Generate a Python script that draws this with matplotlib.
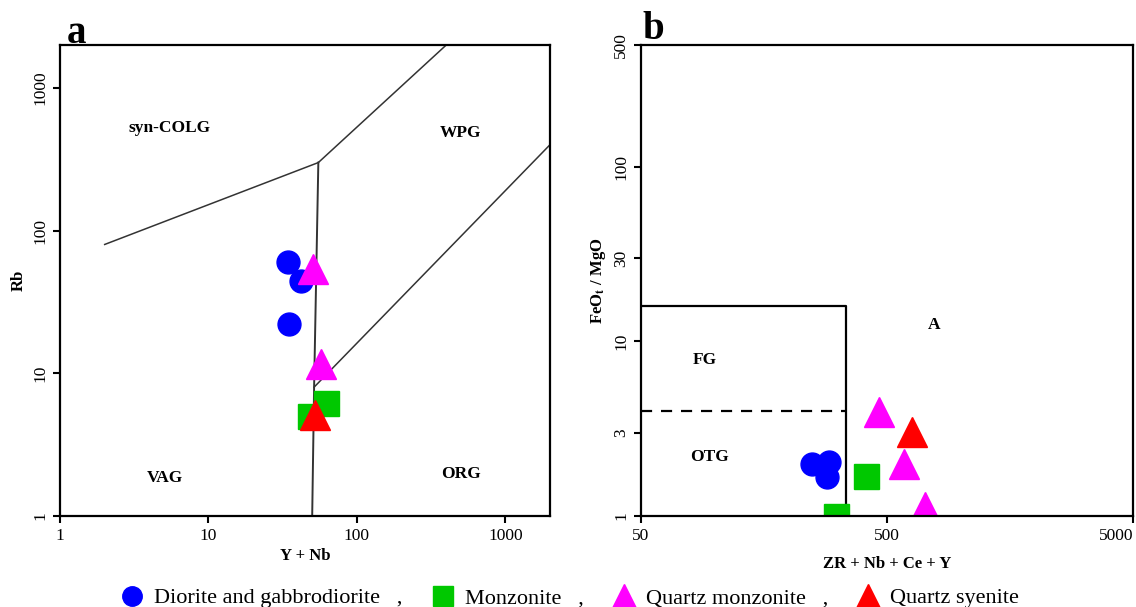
import matplotlib.pyplot as plt
import numpy as np
from matplotlib.lines import Line2D

plt.rcParams['font.family'] = ['Liberation Serif', 'DejaVu Serif']
plt.rcParams['mathtext.fontset'] = 'stix'

# panel a : Rb vs Y+Nb
dio_a_x = [34.1, 41.8, 34.7]
dio_a_y = [60.5, 44.5, 22.1]
mon_a_x = [48, 61.5]
mon_a_y = [5.06, 6.15]
qm_a_x = [50.3, 56.9]
qm_a_y = [54, 11.6]
qs_a_x = [51.9]
qs_a_y = [5.14]

# panel b : FeOt/MgO vs Zr+Nb+Ce+Y
dio_b_x = [248, 290, 285]
dio_b_y = [1.99, 2.04, 1.67]
mon_b_x = [411, 310]
mon_b_y = [1.69, 1.0]
qm_b_x = [464, 586, 713]
qm_b_y = [3.95, 1.99, 1.12]
qs_b_x = [630]
qs_b_y = [3.03]

# field boundaries (Pearce 1984 / Whalen 1987)
colg_vag_x, colg_vag_y = [2, 55], [80, 300]
wpg_colg_x, wpg_colg_y = [55, 400], [300, 2000]
vag_org_x, vag_org_y = [55, 51.5, 50], [300, 8, 1]
wpg_org_x, wpg_org_y = [51.5, 2000], [8, 400]

fg_box_x, fg_box_y = [50, 340, 340], [16, 16, 1]
otg_x, otg_y = [50, 340], [4, 4]

a_xticks = [1, 10, 100, 1000]
a_yticks = [1, 10, 100, 1000]
b_xticks = [50, 500, 5000]
b_yticks = [1, 3, 10, 30, 100, 500]

styles = {
    'dio': dict(marker='o', color='#0000ff', ms=16.5),
    'mon': dict(marker='s', color='#00c800', ms=18),
    'qm': dict(marker='^', color='#ff00ff', ms=21),
    'qs': dict(marker='^', color='#ff0000', ms=21),
}

fig = plt.figure(figsize=(11.36, 6.07), dpi=100)
axa = fig.add_axes([60/1136, 1-516/607, 490/1136, 471/607])
axb = fig.add_axes([641/1136, 1-516/607, 492/1136, 471/607])

def style_ax(ax, xt, yt):
    ax.set_xscale('log')
    ax.set_yscale('log')
    ax.set_xticks(xt)
    ax.set_xticklabels([str(v) for v in xt])
    ax.set_yticks(yt)
    ax.set_yticklabels([str(v) for v in yt], rotation=90, va='center')
    ax.minorticks_off()
    for s in ax.spines.values():
        s.set_linewidth(1.6)
    ax.tick_params(direction='out', length=5, width=1.5, labelsize=12.5)

# ---- a ----
style_ax(axa, a_xticks, a_yticks)
lc = '#333333'
axa.plot(colg_vag_x, colg_vag_y, color=lc, lw=1.1)
axa.plot(wpg_colg_x, wpg_colg_y, color=lc, lw=1.1)
axa.plot(vag_org_x, vag_org_y, color=lc, lw=1.4)
axa.plot(wpg_org_x, wpg_org_y, color=lc, lw=1.1)

axa.plot(dio_a_x, dio_a_y, ls='none', **styles['dio'])
axa.plot(mon_a_x, mon_a_y, ls='none', **styles['mon'])
axa.plot(qm_a_x, qm_a_y, ls='none', **styles['qm'])
axa.plot(qs_a_x, qs_a_y, ls='none', **styles['qs'])

axa.set_xlim(1, 2000)
axa.set_ylim(1, 2000)

tk = dict(fontsize=12.5, fontweight='bold', ha='center', va='center')
axa.text(5.5, 523, 'syn-COLG', **tk)
axa.text(497, 482, 'WPG', **tk)
axa.text(5.1, 1.85, 'VAG', **tk)
axa.text(505, 1.98, 'ORG', **tk)
axa.set_xlabel('Y + Nb', fontsize=12, fontweight='bold', labelpad=3)
axa.set_ylabel('Rb', fontsize=12, fontweight='bold', labelpad=4)

# ---- b ----
style_ax(axb, b_xticks, b_yticks)
# the last label sits against the figure edge, as in the source
axb.get_xticklabels()[-1].set_ha('right')
axb.plot(fg_box_x, fg_box_y, color='black', lw=1.6)
axb.plot(otg_x, otg_y, color='black', lw=1.6, ls=(0, (5, 4)))

axb.plot(dio_b_x, dio_b_y, ls='none', **styles['dio'])
axb.plot(mon_b_x, mon_b_y, ls='none', **styles['mon'])
axb.plot(qm_b_x, qm_b_y, ls='none', **styles['qm'])
axb.plot(qs_b_x, qs_b_y, ls='none', **styles['qs'])

axb.set_xlim(50, 5000)
axb.set_ylim(1, 500)

axb.text(91, 7.8, 'FG', **tk)
axb.text(94.6, 2.18, 'OTG', **tk)
axb.text(776, 12.4, 'A', **tk)
axb.set_xlabel('ZR + Nb + Ce + Y', fontsize=12, fontweight='bold', labelpad=9)
axb.set_ylabel(r'FeO$_{\mathbf{t}}$ / MgO', fontsize=12, fontweight='bold', labelpad=4)

fig.text(67/1136, 1-43/607, 'a', fontsize=28, fontweight='bold')
fig.text(642/1136, 1-39/607, 'b', fontsize=28, fontweight='bold')

# legend
handles = [
    Line2D([], [], ls='none', marker='o', color='#0000ff', ms=14),
    Line2D([], [], ls='none', marker='s', color='#00c800', ms=15),
    Line2D([], [], ls='none', marker='^', color='#ff00ff', ms=17),
    Line2D([], [], ls='none', marker='^', color='#ff0000', ms=17),
]
labels = ['Diorite and gabbrodiorite   ,', 'Monzonite   ,',
          'Quartz monzonite   ,', 'Quartz syenite']
fig.legend(handles, labels, loc='center', bbox_to_anchor=(570/1136, 1-598/607),
           ncol=4, frameon=False, fontsize=16, handlelength=1.0,
           handletextpad=0.5, columnspacing=1.3)

fig.savefig('out.png', dpi=100)
